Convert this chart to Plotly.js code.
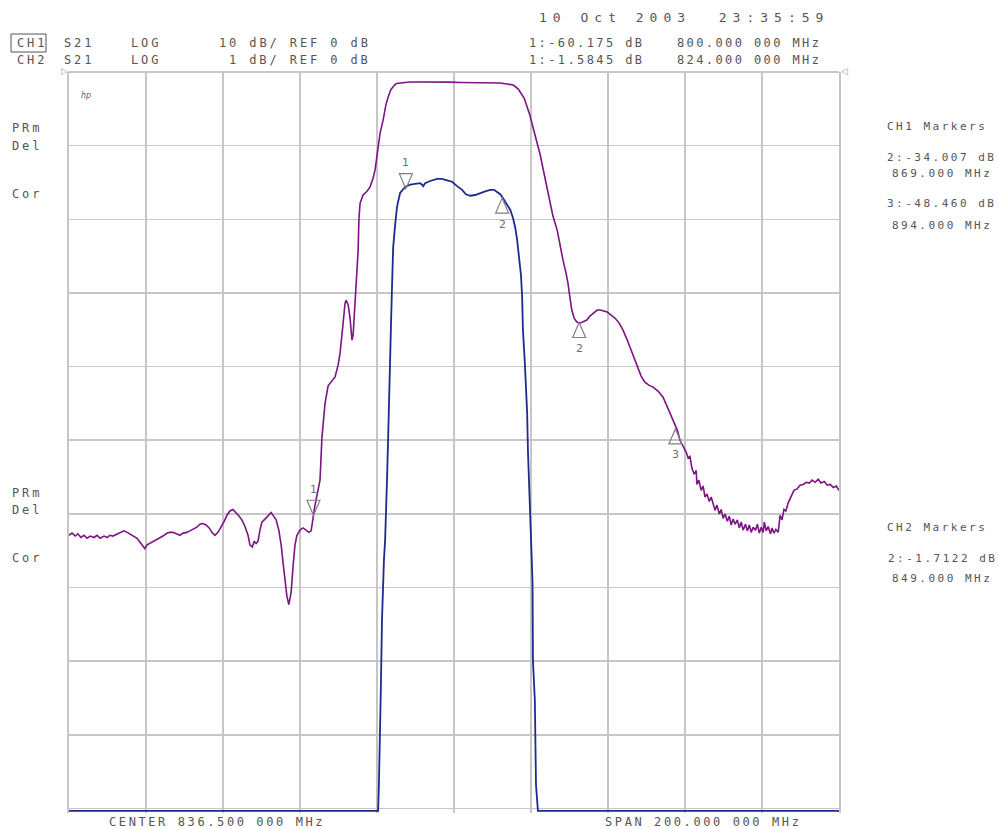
<!DOCTYPE html>
<html><head><meta charset="utf-8">
<script src="https://cdn.plot.ly/plotly-3.0.1.min.js"></script>
<style>html,body{margin:0;padding:0;background:#fff}#chart{width:998px;height:829px}</style>
</head><body><div id="chart"></div>
<script>
// ---------- DATA ----------
const centerMHz = 836.5;
const spanMHz = 200;

// CH1: S21 LOG 10 dB/div, REF 0 dB (purple)
const ch1Freq = [736.5,737.3,738.1,738.8,739.6,740.4,741.2,742.0,743.0,743.8,744.6,745.6,746.4,747.1,747.9,749.0,749.7,750.8,751.6,752.3,753.1,754.2,754.9,755.7,756.2,756.8,757.5,758.3,759.4,760.1,760.9,762.0,762.7,763.5,764.5,765.3,766.1,767.1,767.9,768.7,769.7,770.5,771.3,772.1,772.9,773.6,774.4,775.2,776.0,776.8,777.5,778.3,779.1,779.9,780.7,781.4,782.2,783.0,783.5,784.1,784.6,785.1,785.6,786.1,786.6,787.4,788.2,789.0,789.5,790.3,791.0,791.6,792.1,792.6,793.1,793.6,794.2,794.7,795.2,795.7,796.5,797.3,798.1,798.8,799.4,799.9,800.4,800.9,801.7,802.2,803.0,803.8,804.8,805.6,806.4,806.9,807.7,808.2,808.5,809.0,809.5,810.0,810.3,810.8,811.3,811.6,811.8,812.1,812.9,813.9,814.7,815.5,816.0,816.8,817.3,818.1,818.8,819.4,820.1,820.7,821.4,822.5,825.1,827.7,830.3,832.9,835.5,838.1,840.7,843.3,845.9,848.5,850.3,851.9,853.2,853.9,854.7,855.5,856.2,857.0,858.1,858.9,859.7,860.5,861.4,862.2,863.3,864.0,864.8,865.6,866.1,866.6,867.1,867.7,868.4,869.2,870.0,871.0,871.8,872.9,873.7,874.5,875.5,876.3,877.3,878.3,879.4,880.4,881.4,882.2,883.2,884.0,885.1,886.1,887.1,888.2,889.5,890.8,891.8,892.6,893.6,894.5,895.2,896.0,896.8,897.3,897.8,898.3,898.9,899.4,899.6,900.1,900.7,901.2,901.7,902.2,902.8,903.3,903.8,904.3,904.8,905.4,905.9,906.4,906.9,907.5,908.0,908.5,909.0,909.5,910.1,910.6,911.1,911.6,912.2,912.7,913.2,913.7,914.2,914.8,915.3,915.8,916.3,916.8,917.1,917.6,918.1,918.7,919.1,919.6,920.1,920.7,921.2,921.7,922.2,922.7,923.3,923.8,924.3,924.8,925.6,926.4,927.2,928.0,928.8,929.5,930.3,931.1,931.8,932.7,933.4,934.2,935.0,935.8,936.5];
const ch1Db = [-62.9,-62.6,-63.0,-62.7,-63.2,-62.9,-63.3,-63.0,-63.2,-62.9,-63.3,-63.0,-63.2,-62.9,-63.0,-62.7,-62.6,-62.3,-62.5,-62.7,-62.9,-63.3,-63.8,-64.4,-64.7,-64.2,-64.0,-63.7,-63.4,-63.2,-63.0,-62.6,-62.5,-62.5,-62.7,-62.9,-62.6,-62.5,-62.3,-62.1,-61.8,-61.4,-61.3,-61.5,-61.9,-62.5,-62.9,-62.5,-61.8,-61.0,-60.2,-59.6,-59.4,-59.8,-60.3,-60.8,-61.7,-62.9,-64.2,-64.5,-63.7,-64.0,-63.7,-62.2,-61.1,-60.7,-60.3,-59.8,-60.2,-60.8,-62.2,-64.2,-66.6,-69.0,-71.2,-72.3,-70.6,-67.1,-64.2,-62.9,-62.2,-61.9,-62.2,-62.5,-62.3,-60.2,-58.8,-57.5,-55.4,-49.6,-45.0,-42.6,-42.0,-41.4,-39.8,-38.2,-34.1,-31.4,-31.0,-31.6,-33.4,-36.4,-35.7,-30.6,-25.5,-24.2,-20.1,-17.8,-16.7,-16.2,-15.6,-14.4,-13.3,-10.2,-8.3,-6.5,-4.5,-3.4,-2.4,-2.0,-1.6,-1.5,-1.36,-1.35,-1.34,-1.35,-1.38,-1.42,-1.45,-1.45,-1.46,-1.50,-1.63,-1.77,-2.31,-2.85,-3.53,-4.75,-5.84,-7.47,-9.64,-11.27,-13.3,-15.35,-17.8,-19.56,-21.46,-23.5,-25.5,-27.3,-28.66,-30.56,-32.32,-33.41,-33.95,-34.1,-33.95,-33.68,-33.14,-32.59,-32.32,-32.32,-32.46,-32.59,-33.0,-33.41,-34.09,-35.04,-36.26,-37.35,-38.71,-40.06,-41.29,-42.1,-42.51,-42.78,-43.32,-44.14,-45.22,-46.31,-47.53,-48.62,-50.0,-50.8,-51.6,-52.4,-52.2,-53.8,-54.6,-54.1,-56.0,-55.4,-56.8,-56.2,-57.7,-57.3,-58.3,-57.7,-58.8,-59.5,-58.8,-60.0,-59.4,-60.6,-60.0,-61.0,-60.3,-61.5,-60.7,-61.4,-60.8,-61.9,-61.1,-62.2,-61.4,-62.3,-61.5,-62.5,-61.8,-62.2,-61.4,-62.6,-61.8,-62.5,-61.1,-62.3,-61.7,-62.7,-61.9,-62.6,-62.1,-62.5,-60.2,-60.8,-59.4,-59.6,-58.5,-58.0,-57.5,-56.8,-56.6,-56.1,-56.0,-55.7,-55.8,-55.4,-55.7,-55.3,-55.8,-55.6,-56.1,-56.0,-56.4,-56.2,-56.8];

// CH2: S21 LOG 1 dB/div, REF 0 dB (blue) - values below the screen are held at the bottom edge
const ch2Freq = [736.5,816.8,817.0,817.3,817.5,817.8,818.1,818.3,818.6,818.8,819.1,819.4,819.6,819.9,820.1,820.4,820.7,821.2,821.7,822.5,823.3,823.8,825.1,826.4,827.7,828.2,828.5,829.0,830.3,832.1,833.4,834.7,836.0,837.3,838.6,839.6,840.7,842.0,843.3,844.6,845.9,846.9,847.7,848.5,849.2,850.0,851.1,851.8,852.4,852.9,853.4,853.9,854.2,854.4,854.9,855.2,855.5,855.7,856.0,856.2,856.5,856.8,856.9,857.0,857.3,857.5,857.8,858.3,936.5];
const ch2Db = [-10.03,-10.03,-9.66,-9.07,-8.37,-7.44,-6.90,-6.63,-6.36,-6.08,-5.54,-4.96,-4.45,-4.05,-3.50,-2.92,-2.38,-2.08,-1.83,-1.64,-1.59,-1.56,-1.53,-1.52,-1.51,-1.53,-1.55,-1.51,-1.48,-1.45,-1.45,-1.47,-1.49,-1.55,-1.60,-1.66,-1.68,-1.67,-1.64,-1.62,-1.60,-1.60,-1.63,-1.66,-1.71,-1.78,-1.87,-1.98,-2.11,-2.28,-2.49,-2.76,-3.06,-3.50,-3.95,-4.32,-4.63,-5.13,-5.54,-5.85,-6.22,-6.63,-6.93,-7.99,-8.26,-8.53,-9.68,-10.03,-10.03];

// Markers
const ch1MarkerLabel = ['1','2','3'];
const ch1MarkerFreq = [800, 869, 894];
const ch1MarkerDb = [-60.175, -34.007, -48.460];
const ch2MarkerLabel = ['1','2'];
const ch2MarkerFreq = [824, 849];
const ch2MarkerDb = [-1.5845, -1.7122];

// Screen texts
const dateText = '10 Oct 2003  23:35:59';
const ch1Header = ['CH1','S21','LOG','10 dB/ REF 0 dB','1:-60.175 dB','800.000 000 MHz'];
const ch2Header = ['CH2','S21','LOG','1 dB/ REF 0 dB','1:-1.5845 dB','824.000 000 MHz'];
const sideLabels = ['PRm','Del','Cor'];
const ch1MarkerPanel = ['CH1 Markers','2:-34.007 dB','869.000 MHz','3:-48.460 dB','894.000 MHz'];
const ch2MarkerPanel = ['CH2 Markers','2:-1.7122 dB','849.000 MHz'];
const centerText = 'CENTER 836.500 000 MHz';
const spanText = 'SPAN 200.000 000 MHz';

// ---------- LAYOUT ----------
const W = 998, H = 829;
const L = 69, R = 159, T = 72, B = 16;
const pw = W - L - R, ph = H - T - B;
const PX = x => (x - L) / pw;
const PY = y => (T + ph - y) / ph;

const TXT = '#555555';
const MONO = 'DejaVu Sans Mono, monospace';
const annotations = [];
const spacing = [];
function txt(text, x, y, size, ls, extra) {
  annotations.push(Object.assign({
    text: text, xref: 'paper', yref: 'paper', x: PX(x), y: PY(y),
    xanchor: 'left', yanchor: 'middle', align: 'left', showarrow: false,
    font: {family: MONO, size: size, color: TXT}
  }, extra || {}));
  spacing.push(ls);
}

txt(dateText, 537, 17, 13, 6.0);
const hdrX = [15, 62, 129, 217, 527, 675];
const hdrLS = [2.9, 2.9, 2.9, 2.9, 2.4, 2.4];
ch1Header.forEach((t, i) => txt(t, hdrX[i], 43, 12, hdrLS[i]));
const hdr2X = [15, 62, 129, 227, 527, 675];
ch2Header.forEach((t, i) => txt(t, hdr2X[i], 60, 12, hdrLS[i]));
[128, 146, 194].forEach((y, i) => txt(sideLabels[i], 10, y, 12, 2.9));
[493, 510, 558].forEach((y, i) => txt(sideLabels[i], 10, y, 12, 2.9));
const p1Y = [126, 157, 174, 203, 226], p1X = [885, 885, 890, 885, 890];
ch1MarkerPanel.forEach((t, i) => txt(t, p1X[i], p1Y[i], 11, 2.5));
const p2Y = [527, 558, 578], p2X = [885, 886, 890];
ch2MarkerPanel.forEach((t, i) => txt(t, p2X[i], p2Y[i], 11, 2.5));
txt(centerText, 107, 822, 12, 2.6);
txt(spanText, 603, 822, 12, 2.6);
txt('hp', 79, 96, 8, 0, {font: {family: 'DejaVu Sans', size: 8, color: '#666', style: 'italic'}});
txt('\u25B7', 59, 71, 9, 0, {font: {family: 'DejaVu Sans', size: 9, color: '#999'}});
txt('\u25C1', 839, 71, 9, 0, {font: {family: 'DejaVu Sans', size: 9, color: '#999'}});

const shapes = [];
// CH1 box around channel label
shapes.push({type: 'rect', xref: 'paper', yref: 'paper', x0: PX(11), x1: PX(46), y0: PY(34), y1: PY(52),
  line: {color: '#555', width: 1}});

// Marker triangles (tip on the trace) + numbers
function markers(freqs, vals, labels, yref) {
  freqs.forEach((f, i) => {
    const down = labels[i] === '1';
    shapes.push({type: 'path', xref: 'x', yref: yref, xsizemode: 'pixel', ysizemode: 'pixel',
      xanchor: f, yanchor: vals[i],
      path: down ? 'M0,0 L-6.5,15 L6.5,15 Z' : 'M0,0 L-6.5,-15 L6.5,-15 Z',
      line: {color: '#808080', width: 1.2}, fillcolor: 'rgba(0,0,0,0)'});
    annotations.push({text: labels[i], xref: 'x', yref: yref, x: f, y: vals[i],
      yshift: down ? 26 : -26, showarrow: false, xanchor: 'center', yanchor: 'middle',
      font: {family: 'DejaVu Sans', size: 11, color: '#707070'}});
    spacing.push(0);
  });
}
markers(ch1MarkerFreq, ch1MarkerDb, ch1MarkerLabel, 'y');
markers(ch2MarkerFreq, ch2MarkerDb, ch2MarkerLabel, 'y2');

const GRID = '#c6c6c6';
const x0 = centerMHz - spanMHz / 2, x1 = centerMHz + spanMHz / 2;

const traces = [
  {x: ch1Freq, y: ch1Db, type: 'scatter', mode: 'lines', yaxis: 'y',
   line: {color: '#7a1583', width: 1.6, shape: 'linear'}, hoverinfo: 'skip', name: 'CH1'},
  {x: ch2Freq, y: ch2Db, type: 'scatter', mode: 'lines', yaxis: 'y2',
   line: {color: '#1f2a8e', width: 1.8, shape: 'linear'}, hoverinfo: 'skip', name: 'CH2'}
];

const layout = {
  width: W, height: H,
  margin: {l: L, r: R, t: T, b: B, pad: 0},
  paper_bgcolor: '#ffffff', plot_bgcolor: '#ffffff',
  showlegend: false,
  xaxis: {range: [x0, x1], tick0: x0, dtick: spanMHz / 10, showticklabels: false, ticks: '',
          showgrid: true, gridcolor: GRID, gridwidth: 1.6, zeroline: false, showline: false, fixedrange: true},
  yaxis: {range: [-100.6, 0], tick0: 0, dtick: 10, showticklabels: false, ticks: '',
          showgrid: true, gridcolor: GRID, gridwidth: 1.6, zeroline: true, zerolinecolor: GRID, zerolinewidth: 1.6,
          showline: true, mirror: true, linecolor: GRID, linewidth: 1.6, fixedrange: true},
  yaxis2: {range: [-10.06, 0], overlaying: 'y', side: 'right', showgrid: false, zeroline: false,
           showticklabels: false, ticks: '', showline: false, fixedrange: true},
  annotations: annotations,
  shapes: shapes
};

Plotly.newPlot('chart', traces, layout, {staticPlot: true, displayModeBar: false}).then(() => {
  document.querySelectorAll('#chart g.annotation').forEach(g => {
    const idx = +g.getAttribute('data-index');
    const sp = spacing[idx];
    const t = g.querySelector('text');
    if (t && sp) t.style.letterSpacing = sp + 'px';
  });
});
</script>
</body></html>
